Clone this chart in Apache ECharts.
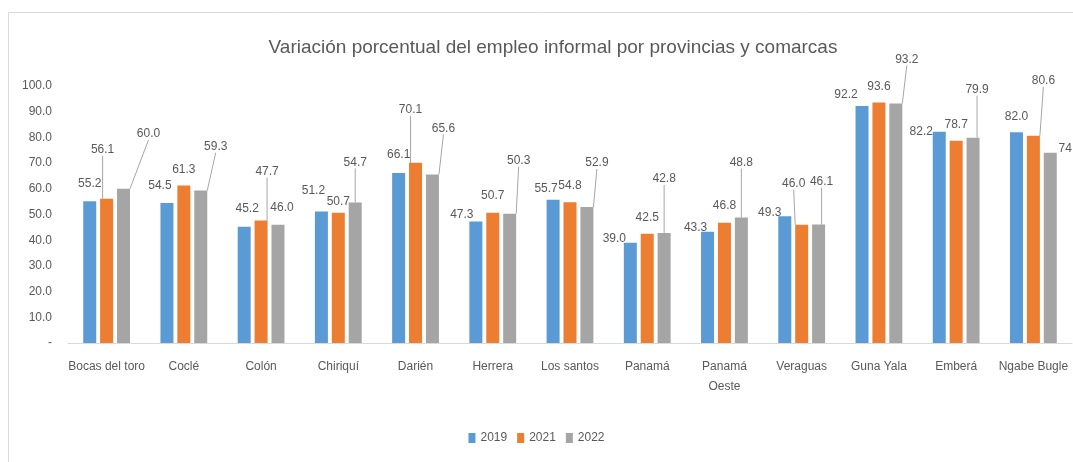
<!DOCTYPE html>
<html>
<head>
<meta charset="utf-8">
<script src="https://cdn.jsdelivr.net/npm/echarts@6/dist/echarts.min.js"></script>
<style>
  html, body { margin: 0; padding: 0; background: #fff; }
  #chart { width: 1073px; height: 462px; }
</style>
</head>
<body>
<div id="chart"></div>
<script>
// provincias y comarcas
var categories = ['Bocas del toro', 'Coclé', 'Colón', 'Chiriquí', 'Darién', 'Herrera', 'Los santos',
  'Panamá', 'Panamá\nOeste', 'Veraguas', 'Guna Yala', 'Emberá', 'Ngabe Bugle']
var years = ['2019', '2021', '2022']
var v2019 = [55.2, 54.5, 45.2, 51.2, 66.1, 47.3, 55.7, 39.0, 43.3, 49.3, 92.2, 82.2, 82.0]
var v2021 = [56.1, 61.3, 47.7, 50.7, 70.1, 50.7, 54.8, 42.5, 46.8, 46.0, 93.6, 78.7, 80.6]
var v2022 = [60.0, 59.3, 46.0, 54.7, 65.6, 50.3, 52.9, 42.8, 48.8, 46.1, 93.2, 79.9, 74.0]

var colors = ['#5b9bd5', '#ed7d31', '#a5a5a5']
var txt = '#595959'

// desplazamiento de etiquetas (como en Excel), [dx, dy] por serie y categoria
var shift = [
  [[0, -6], [-7, -6], [3, -7], [-8, -10], [0, -7], [-14, 4], [-7, 0], [-16, 7], [-12, 7], [-15, 7], [-16, 0], [-18, 11], [0, -5]],
  [[-4, -38], [0, -5], [6, -38], [0, 0], [-5, -42], [0, -6], [0, -5], [0, -5], [0, -6], [-8, -30], [0, -5], [0, -5], [10, -44]],
  [[25, -44], [15, -33], [4, -6], [0, -29], [11, -35], [9, -42], [10, -33], [0, -43], [0, -44], [3, -32], [11, -33], [4, -37], [20, 7]]
]
function withLine (s) { return s[1] <= -20 }

var chart = echarts.init(document.getElementById('chart'))

var series = [v2019, v2021, v2022].map(function (vals, i) {
  return {
    name: years[i],
    type: 'bar',
    // etiquetas cercanas: sin linea guia
    data: vals.map(function (v, j) {
      return withLine(shift[i][j]) ? v : { value: v, labelLine: { show: false } }
    }),
    barWidth: 13,
    barGap: '30%',
    itemStyle: { color: colors[i] },
    label: {
      show: true,
      position: 'top',
      distance: 5,
      color: txt,
      fontSize: 12,
      formatter: function (p) { return p.value.toFixed(1) }
    },
    labelLine: {
      show: true,
      lineStyle: { color: '#a6a6a6', width: 1 }
    },
    labelLayout: function (p) {
      var s = shift[p.seriesIndex][p.dataIndex]
      return { dx: s[0], dy: s[1] }
    }
  }
})

chart.setOption({
  textStyle: { fontFamily: 'Liberation Sans, Arial, sans-serif' },
  graphic: [{
    type: 'rect',
    shape: { x: 8.5, y: 12.5, width: 1100, height: 500 },
    style: { fill: 'none', stroke: '#d9d9d9', lineWidth: 1 },
    silent: true
  }],
  title: {
    text: 'Variación porcentual del empleo informal por provincias y comarcas',
    left: 548,
    textAlign: 'center',
    top: 33,
    textStyle: { color: txt, fontSize: 19, fontWeight: 'normal' }
  },
  legend: {
    data: years,
    bottom: 13,
    left: 'center',
    icon: 'rect',
    itemWidth: 7,
    itemHeight: 10,
    itemGap: 10,
    textStyle: { color: txt, fontSize: 12 }
  },
  grid: { left: 68, right: 1, top: 86, bottom: 119 },
  xAxis: {
    type: 'category',
    data: categories,
    axisLine: { lineStyle: { color: '#d9d9d9', width: 1 } },
    axisTick: { show: false },
    axisLabel: { color: txt, fontSize: 12, interval: 0, margin: 14, lineHeight: 20 }
  },
  yAxis: {
    type: 'value',
    min: 0,
    max: 100,
    interval: 10,
    splitLine: { show: false },
    axisLine: { show: false },
    axisTick: { show: false },
    axisLabel: {
      color: txt,
      fontSize: 12,
      margin: 16,
      formatter: function (v) { return v === 0 ? '-' : v.toFixed(1) }
    }
  },
  series: series
})
</script>
</body>
</html>
